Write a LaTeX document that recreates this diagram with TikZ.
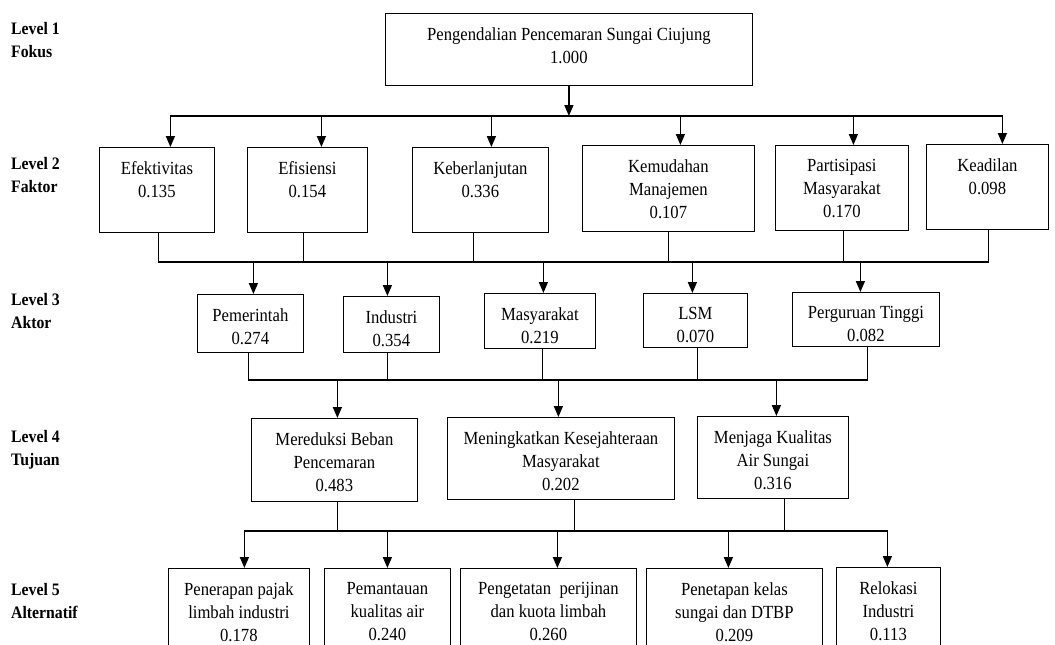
\documentclass[tikz,border=0pt]{standalone}
\usepackage{fontspec}
\setmainfont{Liberation Serif}[FakeStretch=0.9]
\usetikzlibrary{arrows.meta}

\begin{document}
\begin{tikzpicture}[
    x=1pt, y=-1pt,
    font=\fontsize{18.5}{23}\selectfont,
    box/.style={draw, line width=0.8pt, inner sep=0pt, anchor=north west},
    wh/.style 2 args={minimum width=#1pt, minimum height=#2pt},
    txt/.style={anchor=north, align=center, inner sep=0pt, yshift=-14pt},
    lvl/.style={anchor=north west, align=left, inner sep=0pt, font=\fontsize{17.5}{23}\selectfont\bfseries},
    arr/.style={-{Triangle[length=11pt, width=9pt]}, line width=1.6pt},
    bus/.style={line width=1.6pt, line cap=rect},
    stub/.style={line width=0.8pt}
]
\useasboundingbox (0,0) rectangle (1055,645);
\clip (0,0) rectangle (1055,645);

% level names
\node[lvl] (lv1) at (11,22)  {Level 1\\Fokus};
\node[lvl] (lv2) at (11,157) {Level 2\\Faktor};
\node[lvl] (lv3) at (11,293) {Level 3\\Aktor};
\node[lvl] (lv4) at (11,430) {Level 4\\Tujuan};
\node[lvl] (lv5) at (11,583) {Level 5\\Alternatif};

% level 1
\node[box, wh={367}{72}, label={[txt]north:{Pengendalian Pencemaran Sungai Ciujung\\1.000}}] (fokus) at (385,13) {};

% level 2
\node[box, wh={115}{85}, label={[txt]north:{Efektivitas\\0.135}}] (efek) at (99,147) {};
\node[box, wh={120}{85}, label={[txt]north:{Efisiensi\\0.154}}] (efis) at (247,147) {};
\node[box, wh={136}{85}, label={[txt]north:{Keberlanjutan\\0.336}}] (keber) at (412,147) {};
\node[box, wh={172}{86}, label={[txt]north:{Kemudahan\\Manajemen\\0.107}}] (kemud) at (582,145) {};
\node[box, wh={133}{85}, label={[txt]north:{Partisipasi\\Masyarakat\\0.170}}] (parti) at (775,145) {};
\node[box, wh={122}{85}, label={[txt]north:{Keadilan\\0.098}}] (keadi) at (926,144) {};

% level 3
\node[box, wh={106}{58}, label={[txt]north:{Pemerintah\\0.274}}] (pem) at (197,294) {};
\node[box, wh={96}{56}, label={[txt]north:{Industri\\0.354}}] (ind) at (343,296) {};
\node[box, wh={111}{55}, label={[txt]north:{Masyarakat\\0.219}}] (mas) at (484,293) {};
\node[box, wh={104}{54}, label={[txt]north:{LSM\\0.070}}] (lsm) at (643,293) {};
\node[box, wh={147}{54}, label={[txt]north:{Perguruan Tinggi\\0.082}}] (pt) at (792,292) {};

% level 4
\node[box, wh={166}{83}, label={[txt]north:{Mereduksi Beban\\Pencemaran\\0.483}}] (mer) at (251,418) {};
\node[box, wh={227}{82}, label={[txt]north:{Meningkatkan Kesejahteraan\\Masyarakat\\0.202}}] (men) at (447,417) {};
\node[box, wh={151}{82}, label={[txt]north:{Menjaga Kualitas\\Air Sungai\\0.316}}] (jag) at (697,416) {};

% level 5
\node[box, wh={141}{112}, label={[txt]north:{Penerapan pajak\\limbah industri\\0.178}}] (pen) at (168,568) {};
\node[box, wh={126}{112}, label={[txt]north:{Pemantauan\\kualitas air\\0.240}}] (pma) at (324,568) {};
\node[box, wh={176}{112}, label={[txt]north:{Pengetatan~~perijinan\\dan kuota limbah\\0.260}}] (pgt) at (460,568) {};
\node[box, wh={176}{112}, label={[txt]north:{Penetapan kelas\\sungai dan DTBP\\0.209}}] (pnt) at (646,568) {};
\node[box, wh={104}{112}, label={[txt]north:{Relokasi\\Industri\\0.113}}] (rel) at (836,567) {};

\coordinate (bus1) at (0,116);
\coordinate (bus2) at (0,262);
\coordinate (bus3) at (0,380);
\coordinate (bus4) at (0,531);

% level 1 -> level 2
\draw[arr] (fokus.south) -- (fokus.south |- bus1);
\draw[bus] ([xshift=13.5pt]efek.north |- bus1) -- ([xshift=15pt]keadi.north |- bus1);
\foreach \n/\dx in {efek/13.5, efis/14, keber/11, kemud/12, parti/11.5, keadi/15}
  \draw[arr] ([xshift=\dx pt]\n.north |- bus1) -- ([xshift=\dx pt]\n.north);

% level 2 -> level 3
\foreach \n/\dx in {efek/1.5, efis/-4, keber/-7, kemud/0, parti/1.5, keadi/1}
  \draw[stub] ([xshift=\dx pt]\n.south) -- ([xshift=\dx pt]\n.south |- bus2);
\draw[bus] ([xshift=1.5pt]efek.south |- bus2) -- ([xshift=1pt]keadi.south |- bus2);
\foreach \n/\dx in {pem/3, ind/-4, mas/3.5, lsm/-3, pt/-5.5}
  \draw[arr] ([xshift=\dx pt]\n.north |- bus2) -- ([xshift=\dx pt]\n.north);

% level 3 -> level 4
\foreach \n/\dx in {pem/-2, ind/-4, mas/2.5, lsm/2, pt/1.5}
  \draw[stub] ([xshift=\dx pt]\n.south) -- ([xshift=\dx pt]\n.south |- bus3);
\draw[bus] ([xshift=-2pt]pem.south |- bus3) -- ([xshift=1.5pt]pt.south |- bus3);
\foreach \n/\dx in {mer/3, men/-2.5, jag/3.5}
  \draw[arr] ([xshift=\dx pt]\n.north |- bus3) -- ([xshift=\dx pt]\n.north);

% level 4 -> level 5
\foreach \n/\dx in {mer/3, men/13.5, jag/11.5}
  \draw[stub] ([xshift=\dx pt]\n.south) -- ([xshift=\dx pt]\n.south |- bus4);
\draw[bus] ([xshift=5.5pt]pen.north |- bus4) -- ([xshift=-1pt]rel.north |- bus4);
\foreach \n/\dx in {pen/5.5, pma/0, pgt/9, pnt/-6, rel/-1}
  \draw[arr] ([xshift=\dx pt]\n.north |- bus4) -- ([xshift=\dx pt]\n.north);
\end{tikzpicture}
\end{document}
